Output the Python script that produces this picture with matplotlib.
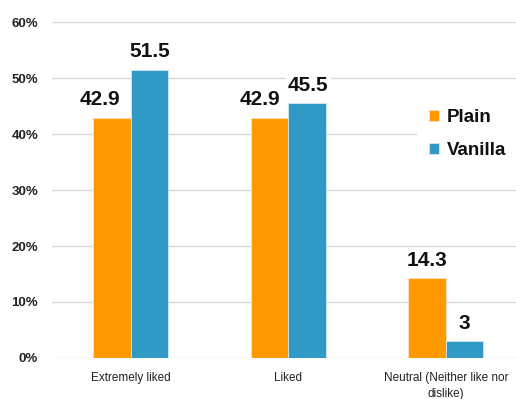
import numpy as np
import matplotlib.pyplot as plt
from matplotlib.ticker import FuncFormatter

plt.rc("font", family=["Liberation Sans", "DejaVu Sans"])

categories = ["Extremely liked", "Liked", "Neutral (Neither like nor\ndislike)"]
plain = [42.9, 42.9, 14.3]
vanilla = [51.5, 45.5, 3]
series_names = ["Plain", "Vanilla"]
colors = ["#FF9900", "#2E9AC5"]

# horizontal nudges (points) so neighbouring value labels don't collide
plain_nudge = [-9, -7, 0]
vanilla_nudge = [0, 1, 0]

fig = plt.figure(figsize=(5.16, 3.99), dpi=100)
ax = fig.add_axes([52 / 516, 41 / 399, 472.5 / 516, 336 / 399])

x = np.arange(len(categories))
w = 0.238
bars = [
    ax.bar(x - w / 2, plain, w, color=colors[0], edgecolor="#fbe3c0", linewidth=0.6,
           label=series_names[0], zorder=3),
    ax.bar(x + w / 2, vanilla, w, color=colors[1], edgecolor="#cfe9f3", linewidth=0.6,
           label=series_names[1], zorder=3),
]

for group, nudges in zip(bars, [plain_nudge, vanilla_nudge]):
    for rect, dx in zip(group, nudges):
        h = rect.get_height()
        ax.annotate(
            "%g" % h,
            (rect.get_x() + rect.get_width() / 2, h),
            xytext=(dx, 6),
            textcoords="offset points",
            ha="center",
            va="bottom",
            fontsize=15,
            fontweight="bold",
            color="#111111",
            bbox=dict(facecolor="white", edgecolor="none", pad=1.5),
            zorder=4,
        )

ax.set_xlim(-0.5, 2.5)
ax.set_ylim(0, 60)
ax.set_yticks(np.arange(0, 61, 10))
ax.yaxis.set_major_formatter(FuncFormatter(lambda v, _: "%d%%" % v))
ax.set_xticks(x)
ax.set_xticklabels(categories, fontsize=8.5, color="#222222", linespacing=1.45)
ax.tick_params(axis="x", length=0, pad=10)
ax.tick_params(axis="y", length=0, pad=10, labelsize=9.5)
for lbl in ax.get_yticklabels():
    lbl.set_fontweight("bold")
    lbl.set_color("#222222")

ax.grid(axis="y", color="#d9d9d9", linewidth=1, zorder=0)
for s in ax.spines.values():
    s.set_visible(False)

leg = fig.legend(
    loc="center left",
    bbox_to_anchor=(408 / 516, 1 - 134 / 399),
    frameon=True,
    facecolor="white",
    edgecolor="none",
    framealpha=1,
    fancybox=False,
    prop=dict(size=13.5, weight="bold"),
    handlelength=0.55,
    handleheight=0.55,
    handletextpad=0.4,
    labelspacing=0.85,
    borderpad=0.62,
)
for t in leg.get_texts():
    t.set_color("#111111")

fig.savefig("out.png", dpi=100)
